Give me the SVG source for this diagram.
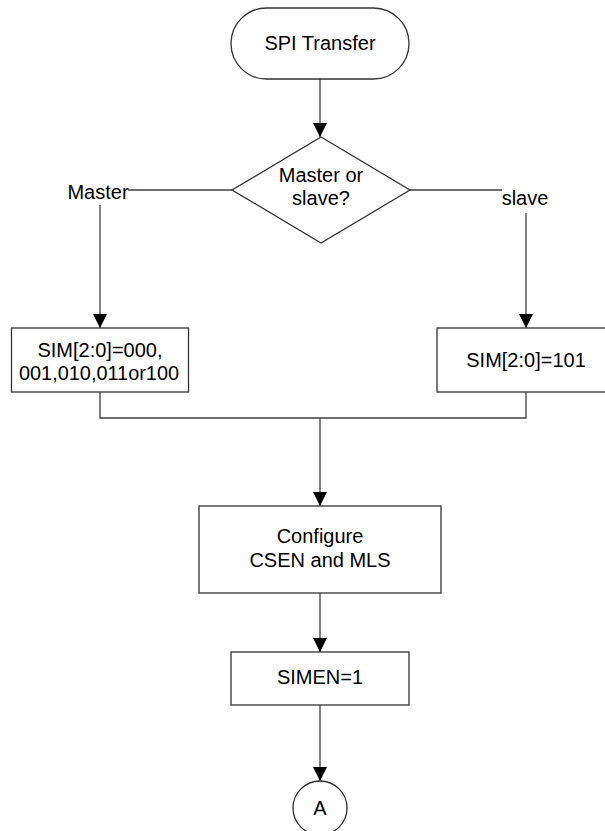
<svg xmlns="http://www.w3.org/2000/svg" width="605" height="831" viewBox="0 0 605 831">
<defs>
<style>
.n{fill:#fff;stroke:#333;stroke-width:1.3}
.c{fill:none;stroke:#404040;stroke-width:1.3}
text{font-family:"Liberation Sans",Arial,sans-serif;font-size:20px;fill:#000;text-anchor:middle}
</style>
<marker id="ah" viewBox="0 0 14 14" refX="14" refY="7" markerWidth="14" markerHeight="14" markerUnits="userSpaceOnUse" orient="auto">
<path d="M0,0 L14,7 L0,14 Z" fill="#000"/>
</marker>
</defs>
<g id="connectors">
<line class="c" x1="320" y1="79" x2="320" y2="137" marker-end="url(#ah)"/>
<polyline class="c" points="232,190 128,190"/>
<line class="c" x1="100" y1="205" x2="100" y2="328" marker-end="url(#ah)"/>
<polyline class="c" points="410,190 502,190"/>
<line class="c" x1="526" y1="213" x2="526" y2="328" marker-end="url(#ah)"/>
<polyline class="c" points="100,392 100,418 526,418 526,392"/>
<line class="c" x1="320" y1="418" x2="320" y2="506" marker-end="url(#ah)"/>
<line class="c" x1="320" y1="593" x2="320" y2="652" marker-end="url(#ah)"/>
<line class="c" x1="320" y1="705" x2="320" y2="781" marker-end="url(#ah)"/>
<text x="98" y="199">Master</text>
<text x="525" y="205">slave</text>
</g>
<g id="start">
<rect class="n" x="231" y="8" width="178" height="71" rx="35.5"/>
<text x="320" y="50">SPI Transfer</text>
</g>
<g id="decision">
<polygon class="n" points="321,137 410,190 321,243 232,190"/>
<text x="321" y="182">Master or</text>
<text x="321" y="205">slave?</text>
</g>
<g id="master-box">
<rect class="n" x="11.5" y="328" width="177" height="64"/>
<text x="100" y="357">SIM[2:0]=000,</text>
<text x="99" y="380" textLength="160" lengthAdjust="spacingAndGlyphs">001,010,011or100</text>
</g>
<g id="slave-box">
<rect class="n" x="437" y="328" width="178" height="64"/>
<text x="526" y="367">SIM[2:0]=101</text>
</g>
<g id="configure">
<rect class="n" x="199" y="506" width="242" height="87"/>
<text x="320" y="543">Configure</text>
<text x="320" y="567">CSEN and MLS</text>
</g>
<g id="simen">
<rect class="n" x="231" y="652" width="178" height="53"/>
<text x="320" y="684">SIMEN=1</text>
</g>
<g id="connector-a">
<circle class="n" cx="320" cy="808" r="27"/>
<text x="320" y="815">A</text>
</g>
</svg>
